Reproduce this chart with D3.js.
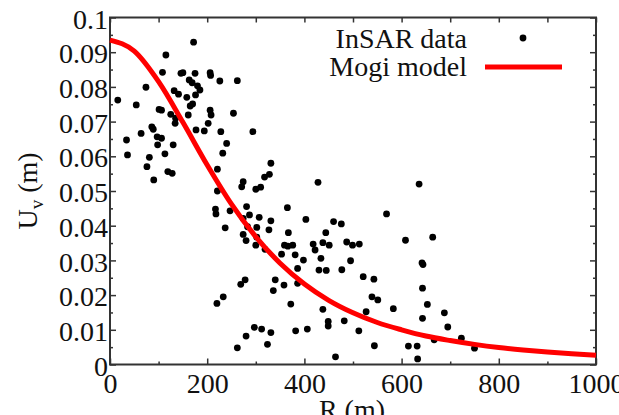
<!DOCTYPE html>
<html><head><meta charset="utf-8">
<script src="https://cdn.jsdelivr.net/npm/d3@7"></script>
<style>body{margin:0;background:#fff}svg{display:block}svg text{font-family:'Liberation Serif','DejaVu Serif',serif !important;fill:#111}</style>
</head><body><svg id="c" width="619" height="415"></svg>
<script>
const insarR = [16,34,36,54,64,74,76,81,86,90,89,97,98,101,106,106,108,113,115,119,128,130,125,132,134,135,141,146,150,158,161,163,165,169,170,172,175,176,177,180,185,194,202,206,207,206,208,221,226,228,232,240,221,254,262,271,274,294,300,310,318,328,331,428,636,
217,218,247,281,287,274,307,331,365,403,237,283,302,327,367,274,280,302,300,319,359,366,376,418,422,353,381,398,386,430,340,358,269,278,336,386,233,220,372,297,312,331,280,382,406,324,262,
460,476,569,444,438,451,487,499,513,434,495,445,477,608,664,642,644,521,543,643,539,551,583,438,527,653,688,643,449,449,482,695,512,667,723,750,544,614,632,464,633];
const insarUv = [0.0762,0.0647,0.0604,0.0748,0.0666,0.0799,0.0570,0.0597,0.0685,0.0532,0.0678,0.0656,0.0633,0.0735,0.0733,0.0652,0.0842,0.0607,0.0892,0.0556,0.0551,0.0633,0.0721,0.0789,0.0695,0.0710,0.0779,0.0839,0.0841,0.0770,0.0719,0.0820,0.0745,0.0812,0.0751,0.0929,0.0839,0.0777,0.0676,0.0803,0.0791,0.0673,0.0695,0.0841,0.0833,0.0733,0.0719,0.0563,0.0817,0.0671,0.0609,0.0637,0.0500,0.0724,0.0818,0.0512,0.0527,0.0671,0.0505,0.0511,0.0540,0.0548,0.0580,0.0525,0.0520,
0.0448,0.0434,0.0443,0.0455,0.0431,0.0421,0.0424,0.0414,0.0452,0.0418,0.0394,0.0397,0.0395,0.0388,0.0380,0.0375,0.0357,0.0367,0.0344,0.0332,0.0344,0.0341,0.0344,0.0347,0.0330,0.0318,0.0316,0.0301,0.0277,0.0272,0.0244,0.0229,0.0231,0.0244,0.0213,0.0234,0.0195,0.0176,0.0174,0.0107,0.0102,0.0092,0.0082,0.0097,0.0102,0.0058,0.0048,
0.0412,0.0405,0.0434,0.0380,0.0351,0.0344,0.0353,0.0344,0.0347,0.0306,0.0299,0.0271,0.0273,0.0358,0.0367,0.0293,0.0288,0.0253,0.0246,0.0220,0.0195,0.0186,0.0161,0.0159,0.0152,0.0173,0.0149,0.0133,0.0124,0.0111,0.0126,0.0108,0.0097,0.0071,0.0076,0.0047,0.0054,0.0053,0.0053,0.0022,0.0016];
const mogiR  = [0,50,100,150,200,250,300,350,400,450,500,550,600,650,700,750,800,850,900,950,1000];
const mogiUv = [0.0935,0.0903,0.0815,0.0698,0.0575,0.0462,0.0368,0.0292,0.0232,0.0185,0.0149,0.0121,0.0100,0.0082,0.0069,0.0058,0.0049,0.0042,0.0036,0.0031,0.0027];
const xMajor = [0,200,400,600,800,1000];
const xMinor = [100,300,500,700,900];
const xTickLabels = ["0","200","400","600","800","1000"];
const yMajor = [0,0.01,0.02,0.03,0.04,0.05,0.06,0.07,0.08,0.09,0.1];
const yMinor = [0.005,0.015,0.025,0.035,0.045,0.055,0.065,0.075,0.085,0.095];
const yTickLabels = ["0","0.01","0.02","0.03","0.04","0.05","0.06","0.07","0.08","0.09","0.1"];
const legendLabels = ["InSAR data","Mogi model"];

const FONT = "'Liberation Serif','DejaVu Serif',serif";
const svg = d3.select("#c");
const L=110,R=596,T=17.5,B=364.5;
const x = d3.scaleLinear().domain([0,1000]).range([L,R]);
const y = d3.scaleLinear().domain([0,0.1]).range([B,T]);
const axCol="#333";

function styleAxis(g){g.attr("font-family",FONT);g.select(".domain").remove();g.selectAll("line").attr("stroke",axCol).attr("stroke-width",1.5);}

svg.append("g").attr("transform",`translate(0,${B})`)
  .call(d3.axisBottom(x).tickValues(xMajor).tickSize(-6).tickPadding(9).tickFormat((d,i)=>xTickLabels[i]))
  .call(styleAxis).call(g=>g.selectAll("text").attr("font-size",28).attr("fill","#111"));
svg.append("g").attr("transform",`translate(0,${B})`)
  .call(d3.axisBottom(x).tickValues(xMinor).tickSize(-3).tickFormat("")).call(styleAxis);
svg.append("g").attr("transform",`translate(0,${T})`)
  .call(d3.axisTop(x).tickValues(xMajor.concat(xMinor)).tickSize(-5).tickFormat("")).call(styleAxis);
svg.append("g").attr("transform",`translate(${L},0)`)
  .call(d3.axisLeft(y).tickValues(yMajor).tickSize(-6).tickPadding(2).tickFormat((d,i)=>yTickLabels[i]))
  .call(styleAxis).call(g=>g.selectAll("text").attr("font-size",28).attr("fill","#111").attr("dy","0.38em"));
svg.append("g").attr("transform",`translate(${L},0)`)
  .call(d3.axisLeft(y).tickValues(yMinor).tickSize(-3).tickFormat("")).call(styleAxis);
svg.append("g").attr("transform",`translate(${R},0)`)
  .call(d3.axisRight(y).tickValues(yMajor).tickSize(-6).tickFormat("")).call(styleAxis);
svg.append("g").attr("transform",`translate(${R},0)`)
  .call(d3.axisRight(y).tickValues(yMinor).tickSize(-3).tickFormat("")).call(styleAxis);

svg.append("rect").attr("x",L).attr("y",T).attr("width",R-L).attr("height",B-T)
  .attr("fill","none").attr("stroke",axCol).attr("stroke-width",2);

svg.append("g").selectAll("circle").data(insarR.map((r,i)=>[r,insarUv[i]])).join("circle")
  .attr("cx",d=>x(d[0])).attr("cy",d=>y(d[1])).attr("r",3.4).attr("fill","#000");

const line = d3.line().x(d=>x(d[0])).y(d=>y(d[1])).curve(d3.curveMonotoneX);
svg.append("path").datum(mogiR.map((r,i)=>[r,mogiUv[i]])).attr("d",line)
  .attr("fill","none").attr("stroke","#f00").attr("stroke-width",5);

const lg = svg.append("g").attr("font-family",FONT);
lg.append("text").attr("x",467).attr("y",48).attr("text-anchor","end").attr("font-size",28).text(legendLabels[0]);
lg.append("text").attr("x",467).attr("y",76).attr("text-anchor","end").attr("font-size",28).text(legendLabels[1]);
lg.append("circle").attr("cx",523).attr("cy",38).attr("r",3.4).attr("fill","#000");
lg.append("line").attr("x1",485).attr("x2",562).attr("y1",67).attr("y2",67).attr("stroke","#f00").attr("stroke-width",5);

const yt = svg.append("text").attr("font-family",FONT).attr("transform","translate(37,191) rotate(-90)").attr("text-anchor","middle").attr("font-size",28);
yt.append("tspan").text("U");
yt.append("tspan").attr("font-size",19).attr("dy",6).text("v");
yt.append("tspan").attr("dy",-6).text(" (m)");
svg.append("text").attr("font-family",FONT).attr("x",352).attr("y",419).attr("text-anchor","middle").attr("font-size",28).text("R (m)");
</script></body></html>
